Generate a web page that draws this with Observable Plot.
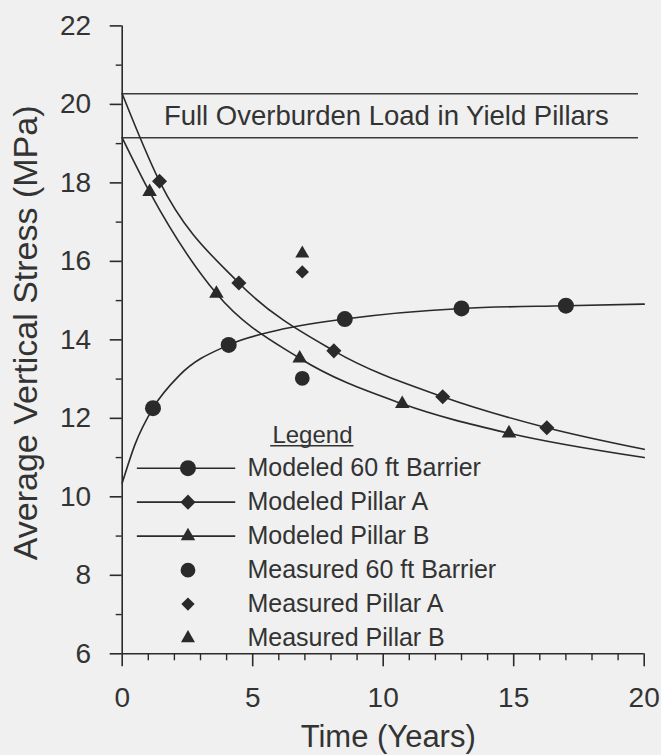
<!DOCTYPE html>
<html>
<head>
<meta charset="utf-8">
<script src="https://cdn.jsdelivr.net/npm/d3@7"></script>
<script src="https://cdn.jsdelivr.net/npm/@observablehq/plot@0.6"></script>
<style>
  html, body { margin: 0; padding: 0; background: #eff0ef; }
  #chart svg { display: block; }
</style>
</head>
<body>
<div id="chart"></div>
<script>
// ---------- data ----------
// Modeled curves: time (years) and average vertical stress (MPa)
const barrierModelTime   = [0, 0.5, 1.18, 2.2, 4.08, 6.0, 8.53, 13.0, 17.0, 20.0];
const barrierModelStress = [10.35, 11.35, 12.26, 13.1, 13.87, 14.25, 14.53, 14.8, 14.87, 14.91];
const barrierMarkerTime   = [1.18, 4.08, 8.53, 13.0, 17.0];
const barrierMarkerStress = [12.26, 13.87, 14.53, 14.8, 14.87];

const pillarAModelTime   = [0, 1.43, 4.47, 8.11, 12.28, 16.27, 20.0];
const pillarAModelStress = [20.27, 18.04, 15.45, 13.72, 12.55, 11.76, 11.21];
const pillarAMarkerTime   = [1.43, 4.47, 8.11, 12.28, 16.27];
const pillarAMarkerStress = [18.04, 15.45, 13.72, 12.55, 11.76];

const pillarBModelTime   = [0, 1.05, 3.61, 6.8, 10.73, 14.82, 20.0];
const pillarBModelStress = [19.15, 17.77, 15.18, 13.53, 12.37, 11.62, 11.0];
const pillarBMarkerTime   = [1.05, 3.61, 6.8, 10.73, 14.82];
const pillarBMarkerStress = [17.77, 15.18, 13.53, 12.37, 11.62];

// Measured values
const measuredNames  = ["Measured 60 ft Barrier", "Measured Pillar A", "Measured Pillar B"];
const measuredTime   = [6.9, 6.9, 6.9];
const measuredStress = [13.02, 15.73, 16.2];

// Full overburden load band
const overburdenLevels = [20.27, 19.15];
const overburdenEnd = 19.78;
const overburdenLabel = "Full Overburden Load in Yield Pillars";

// Axes
const xMajorTicks = [0, 5, 10, 15, 20];
const xMinorTicks = [1, 2, 3, 4, 6, 7, 8, 9, 11, 12, 13, 14, 16, 17, 18, 19];
const yMajorTicks = [6, 8, 10, 12, 14, 16, 18, 20, 22];
const yMinorTicks = [7, 9, 11, 13, 15, 17, 19, 21];
const xTitle = "Time (Years)";
const yTitle = "Average Vertical Stress (MPa)";

// Legend
const legendTitle = "Legend";
const legendLabels  = ["Modeled 60 ft Barrier", "Modeled Pillar A", "Modeled Pillar B",
                       "Measured 60 ft Barrier", "Measured Pillar A", "Measured Pillar B"];
const legendSymbols = ["circle", "diamond2", "triangle", "circle", "diamond2", "triangle"];
const legendHasLine = [true, true, true, false, false, false];

// ---------- build ----------
const ink = "#2a2a2a";
const textInk = "#333";
const symR = {circle: 8, diamond2: 6.8, triangle: 5.4};
const symRMeasured = {circle: 7.4, diamond2: 6.0, triangle: 5.2};
const measuredSymbols = ["circle", "diamond2", "triangle"];

const zip = (t, s) => t.map((d, i) => ({t: d, s: s[i]}));
const barrierLine = zip(barrierModelTime, barrierModelStress);
const pillarALine = zip(pillarAModelTime, pillarAModelStress);
const pillarBLine = zip(pillarBModelTime, pillarBModelStress);

const markers = [
  ...zip(barrierMarkerTime, barrierMarkerStress).map(d => ({...d, sym: "circle", r: symR.circle})),
  ...zip(pillarAMarkerTime, pillarAMarkerStress).map(d => ({...d, sym: "diamond2", r: symR.diamond2})),
  ...zip(pillarBMarkerTime, pillarBMarkerStress).map(d => ({...d, sym: "triangle", r: symR.triangle})),
  ...measuredTime.map((t, i) => ({t, s: measuredStress[i], sym: measuredSymbols[i], r: symRMeasured[measuredSymbols[i]]}))
];

// legend layout (in data units of the chart frame)
const legX0 = 0.58, legX1 = 4.35, legMarkX = 2.52, legTextX = 4.8;
const legY0 = 10.73, legStep = 0.866;
const legendRows = legendLabels.map((label, i) => ({
  label, sym: legendSymbols[i], line: legendHasLine[i],
  y: legY0 - i * legStep,
  r: (legendHasLine[i] ? symR : symRMeasured)[legendSymbols[i]]
}));

const chart = Plot.plot({
  width: 661,
  height: 755,
  marginLeft: 121.7,
  marginRight: 17.3,
  marginTop: 25.4,
  marginBottom: 101.7,
  x: {domain: [0, 20], axis: null},
  y: {domain: [6, 22], axis: null},
  r: {type: "identity"},
  symbol: {type: "identity"},
  style: {
    background: "transparent",
    fontFamily: "'Liberation Sans', Arial, Helvetica, sans-serif",
    color: textInk,
    overflow: "visible"
  },
  marks: [
    // axes lines
    Plot.ruleY([6], {x1: 0, x2: 20, stroke: ink, strokeWidth: 1.6}),
    Plot.ruleX([0], {y1: 6, y2: 22, stroke: ink, strokeWidth: 1.6}),
    // ticks
    Plot.axisX({ticks: xMajorTicks, tickSize: 13, tickPadding: 20, fontSize: 28,
      stroke: ink, strokeWidth: 1.6, label: null, fill: textInk}),
    Plot.axisX({ticks: xMinorTicks, tickSize: 7, tickFormat: () => "", stroke: ink,
      strokeWidth: 1.4, label: null}),
    Plot.axisY({ticks: yMajorTicks, tickSize: 12, tickPadding: 19, fontSize: 28,
      stroke: ink, strokeWidth: 1.6, label: null, fill: textInk}),
    Plot.axisY({ticks: yMinorTicks, tickSize: 6, tickFormat: () => "", stroke: ink,
      strokeWidth: 1.4, label: null}),
    // axis titles
    Plot.text([xTitle], {frameAnchor: "bottom", textAnchor: "middle", lineAnchor: "middle",
      dy: 83, dx: 5, fontSize: 31, fill: textInk}),
    Plot.text([yTitle], {frameAnchor: "left", textAnchor: "middle", lineAnchor: "middle",
      rotate: -90, dx: -96, dy: -7, fontSize: 34, fill: textInk}),
    // overburden band
    Plot.ruleY(overburdenLevels, {x1: 0, x2: overburdenEnd, stroke: "#3a3a3a", strokeWidth: 1.6}),
    Plot.text([overburdenLabel], {
      x: overburdenEnd / 2, y: d3.mean(overburdenLevels), dx: 6,
      fontSize: 27.5, fill: textInk
    }),
    // modeled curves
    Plot.line(barrierLine, {x: "t", y: "s", curve: "monotone-x", stroke: ink, strokeWidth: 1.6}),
    Plot.line(pillarALine, {x: "t", y: "s", curve: "monotone-x", stroke: ink, strokeWidth: 1.6}),
    Plot.line(pillarBLine, {x: "t", y: "s", curve: "monotone-x", stroke: ink, strokeWidth: 1.6}),
    // markers
    Plot.dot(markers, {x: "t", y: "s", symbol: "sym", r: "r", fill: ink, stroke: "none"}),
    // legend
    Plot.text([legendTitle], {x: 7.29, y: 11.58, fontSize: 24, fill: textInk}),
    Plot.ruleY([11.30], {x1: 5.69, x2: 8.88, stroke: textInk, strokeWidth: 1.5}),
    Plot.ruleY(legendRows.filter(d => d.line), {y: "y", x1: legX0, x2: legX1, stroke: ink, strokeWidth: 1.6}),
    Plot.dot(legendRows, {x: legMarkX, y: "y", symbol: "sym", r: "r", fill: ink, stroke: "none"}),
    Plot.text(legendRows, {x: legTextX, y: "y", text: "label", textAnchor: "start",
      fontSize: 25, fill: textInk})
  ]
});

document.getElementById("chart").appendChild(chart);
</script>
</body>
</html>
